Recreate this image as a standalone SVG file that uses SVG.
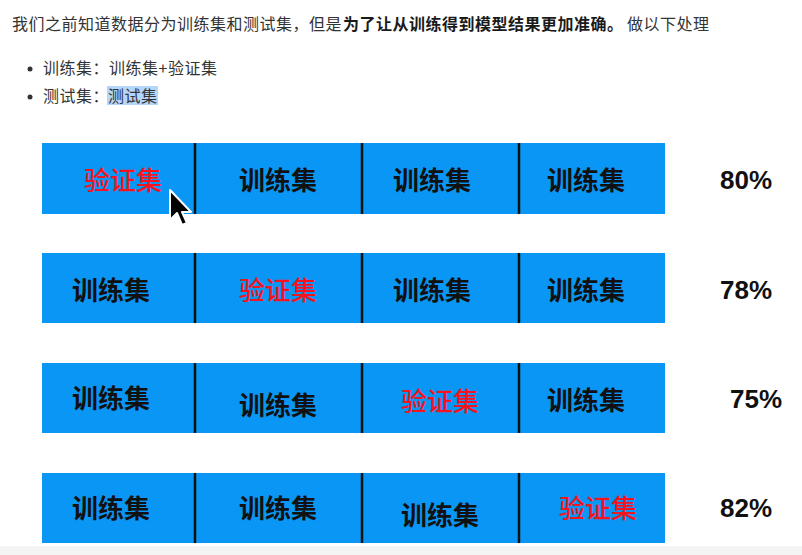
<svg xmlns="http://www.w3.org/2000/svg" width="802" height="555" viewBox="0 0 802 555">
<style>
.body{font-family:"Noto Sans CJK SC","Noto Sans",sans-serif;font-size:16px;fill:#333;letter-spacing:0.5px}
.bold{font-weight:bold;fill:#1a1a1a}
.bar{fill:#0a96f5}
.div{stroke:#111;stroke-width:2.5}
.cell{font-family:"Noto Sans CJK SC","Noto Sans",sans-serif;font-size:26px;font-weight:bold;fill:#111;text-anchor:middle}
.val{fill:#f5141e;font-weight:500}
.pct{font-family:"Liberation Sans",Arial,sans-serif;font-size:26px;font-weight:bold;fill:#111}
</style>
<rect x="0" y="0" width="802" height="555" fill="#fff"/>
<rect x="0" y="546" width="802" height="9" fill="#f4f4f4"/>
<g id="intro">
<text class="body" x="12" y="30">我们之前知道数据分为训练集和测试集，但是</text>
<text class="body bold" x="343" y="30">为了让从训练得到模型结果更加准确。</text>
<text class="body" x="627" y="30">做以下处理</text>
</g>
<g id="bullets">
<circle cx="30" cy="69" r="2.5" fill="#333"/>
<text class="body" x="43" y="74">训练集：训练集+验证集</text>
<circle cx="30" cy="97" r="2.5" fill="#333"/>
<text class="body" x="43" y="102">测试集：</text>
<rect x="107" y="86" width="51" height="19" fill="#b4d6fb"/>
<text class="body" x="108" y="102">测试集</text>
</g>
<g id="row1">
<rect class="bar" x="42" y="143" width="623" height="71"/>
<line class="div" x1="195" y1="143" x2="195" y2="214"/>
<line class="div" x1="362" y1="143" x2="362" y2="214"/>
<line class="div" x1="519" y1="143" x2="519" y2="214"/>
<text class="cell val" x="123" y="190">验证集</text>
<text class="cell" x="278" y="190">训练集</text>
<text class="cell" x="432" y="190">训练集</text>
<text class="cell" x="586" y="190">训练集</text>
<text class="pct" x="720" y="189">80%</text>
</g>
<g id="row2">
<rect class="bar" x="42" y="253" width="623" height="70"/>
<line class="div" x1="195" y1="253" x2="195" y2="323"/>
<line class="div" x1="362" y1="253" x2="362" y2="323"/>
<line class="div" x1="519" y1="253" x2="519" y2="323"/>
<text class="cell" x="111" y="300">训练集</text>
<text class="cell val" x="278" y="300">验证集</text>
<text class="cell" x="432" y="300">训练集</text>
<text class="cell" x="586" y="300">训练集</text>
<text class="pct" x="720" y="299">78%</text>
</g>
<g id="row3">
<rect class="bar" x="42" y="363" width="623" height="70"/>
<line class="div" x1="195" y1="363" x2="195" y2="433"/>
<line class="div" x1="362" y1="363" x2="362" y2="433"/>
<line class="div" x1="519" y1="363" x2="519" y2="433"/>
<text class="cell" x="111" y="408">训练集</text>
<text class="cell" x="278" y="415">训练集</text>
<text class="cell val" x="440" y="411">验证集</text>
<text class="cell" x="586" y="410">训练集</text>
<text class="pct" x="730" y="408">75%</text>
</g>
<g id="row4">
<rect class="bar" x="42" y="473" width="623" height="70"/>
<line class="div" x1="195" y1="473" x2="195" y2="543"/>
<line class="div" x1="362" y1="473" x2="362" y2="543"/>
<line class="div" x1="519" y1="473" x2="519" y2="543"/>
<text class="cell" x="111" y="518">训练集</text>
<text class="cell" x="278" y="518">训练集</text>
<text class="cell" x="440" y="525">训练集</text>
<text class="cell val" x="598" y="518">验证集</text>
<text class="pct" x="720" y="517">82%</text>
</g>
<g id="cursor">
<path d="M170 190 L170 220 L177 213 L182 225 L187 223 L182 212 L191 212 Z" fill="#000" stroke="#fff" stroke-width="2" stroke-linejoin="round"/>
</g>
</svg>
